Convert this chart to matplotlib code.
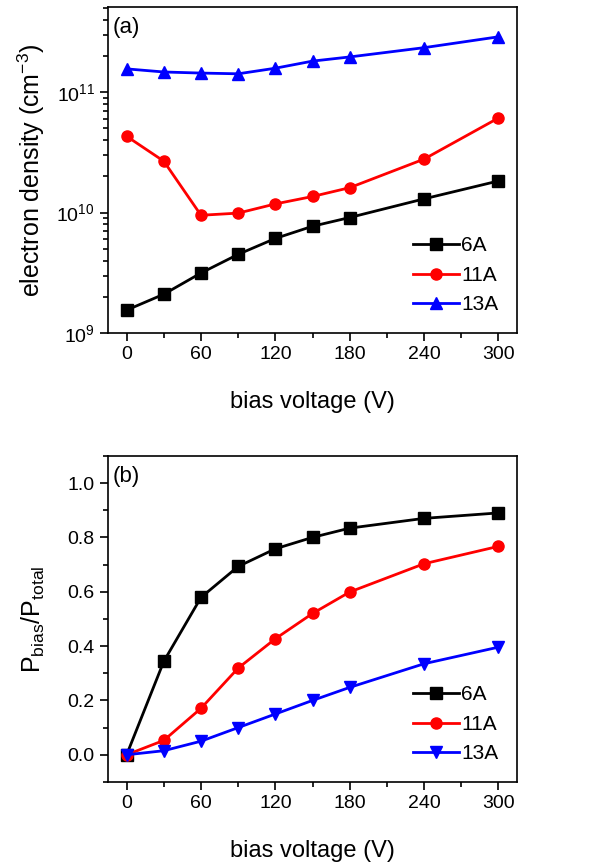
import matplotlib
matplotlib.use("Agg")
import matplotlib.pyplot as plt
from matplotlib.ticker import MultipleLocator, NullFormatter, LogLocator, FormatStrFormatter

plt.rcParams['font.family'] = ['Liberation Sans', 'DejaVu Sans']
plt.rcParams['mathtext.default'] = 'regular'

# tensions de polarisation (V)
bias = [0, 30, 60, 90, 120, 150, 180, 240, 300]

# (a) densite electronique (cm-3)
ne_6A = [1.55e9, 2.1e9, 3.15e9, 4.5e9, 6.1e9, 7.7e9, 9.1e9, 1.30e10, 1.83e10]
ne_11A = [4.3e10, 2.67e10, 9.5e9, 9.9e9, 1.18e10, 1.36e10, 1.61e10, 2.78e10, 6.1e10]
ne_13A = [1.56e11, 1.47e11, 1.44e11, 1.42e11, 1.58e11, 1.81e11, 1.96e11, 2.34e11, 2.88e11]

# (b) rapport Pbias/Ptotal
r_6A = [0.0, 0.344, 0.579, 0.693, 0.758, 0.800, 0.834, 0.870, 0.890]
r_11A = [0.0, 0.053, 0.171, 0.319, 0.427, 0.520, 0.599, 0.703, 0.767]
r_13A = [0.0, 0.015, 0.050, 0.100, 0.150, 0.200, 0.248, 0.335, 0.396]

labels = ["6A", "11A", "13A"]

fig = plt.figure(figsize=(5.97, 8.65), dpi=100)
ax1 = fig.add_axes([0.181, 0.615, 0.685, 0.377])
ax2 = fig.add_axes([0.181, 0.096, 0.685, 0.377])

styles = [('black', 's'), ('red', 'o'), ('blue', '^')]
for y, (c, m), lab in zip([ne_6A, ne_11A, ne_13A], styles, labels):
    ax1.plot(bias, y, color=c, marker=m, markersize=8, lw=2, label=lab)

styles_b = [('black', 's'), ('red', 'o'), ('blue', 'v')]
for y, (c, m), lab in zip([r_6A, r_11A, r_13A], styles_b, labels):
    ax2.plot(bias, y, color=c, marker=m, markersize=8, lw=2, label=lab)

ax1.set_yscale('log')
ax1.set_ylim(1e9, 5.1e11)
ax1.yaxis.set_major_locator(LogLocator(base=10, numticks=10))
ax1.yaxis.set_minor_locator(LogLocator(base=10, subs=range(2, 10), numticks=20))
ax1.yaxis.set_minor_formatter(NullFormatter())
ax1.set_ylabel('electron density (cm$^{-3}$)', fontsize=18)

ax2.set_ylim(-0.1, 1.1)
ax2.yaxis.set_major_locator(MultipleLocator(0.2))
ax2.yaxis.set_minor_locator(MultipleLocator(0.1))
ax2.yaxis.set_major_formatter(FormatStrFormatter('%.1f'))
ax2.set_ylabel('P$_{bias}$/P$_{total}$', fontsize=18)

for ax, tag in zip([ax1, ax2], ['(a)', '(b)']):
    ax.set_xlim(-15, 315)
    ax.xaxis.set_major_locator(MultipleLocator(60))
    ax.xaxis.set_minor_locator(MultipleLocator(30))
    ax.set_xlabel('bias voltage (V)', fontsize=17, labelpad=20)
    ax.yaxis.set_label_coords(-0.15, 0.5)
    ax.tick_params(which='major', direction='out', length=6, width=1.2, labelsize=14)
    ax.tick_params(which='minor', direction='out', length=3.5, width=1.2)
    for s in ax.spines.values():
        s.set_linewidth(1.2)
    ax.text(0.01, 0.936, tag, transform=ax.transAxes, fontsize=16, va='center', ha='left')
    ax.legend(loc='lower right', frameon=False, fontsize=15, handlelength=2.2,
              handletextpad=0.1, labelspacing=0.5, borderaxespad=0.5)

plt.savefig("out.png", dpi=100)
